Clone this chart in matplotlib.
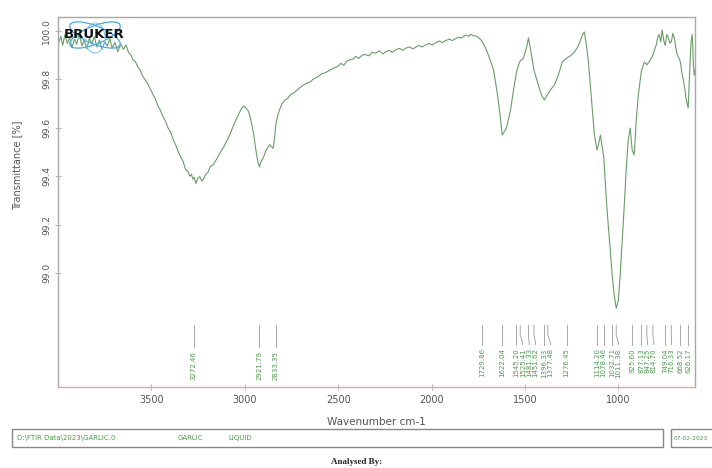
import matplotlib
matplotlib.use("Agg")
import matplotlib.pyplot as plt
from matplotlib.patches import Rectangle, Ellipse

# FTIR spectrum of garlic (liquid sample)
wavenumber = [
    3995, 3985, 3975, 3963, 3950, 3938, 3925, 3912, 3900, 3886, 3872, 3860, 3846,
    3832, 3820, 3806, 3792, 3778, 3764, 3750, 3737, 3722, 3710, 3695, 3680, 3665,
    3650, 3636, 3622, 3610, 3598, 3585, 3572, 3560, 3548, 3535, 3520, 3503, 3490,
    3478, 3465, 3452, 3440, 3425, 3410, 3396, 3382, 3370, 3356, 3343, 3330, 3318,
    3305, 3294, 3285, 3278, 3270, 3262, 3252, 3241, 3230, 3219, 3208, 3198, 3185,
    3171, 3158, 3145, 3130, 3118, 3107, 3092, 3075, 3060, 3043, 3030, 3016, 3005,
    2995, 2983, 2973, 2962, 2952, 2940, 2930, 2922, 2912, 2900, 2888, 2876, 2866,
    2856, 2848, 2840, 2834, 2824, 2813, 2800, 2786, 2770, 2754, 2735, 2717, 2698,
    2674, 2650, 2630, 2610, 2590, 2567, 2545, 2525, 2505, 2485, 2470, 2455, 2440,
    2420, 2405, 2390, 2372, 2353, 2335, 2318, 2299, 2280, 2260, 2246, 2228, 2210,
    2192, 2172, 2155, 2139, 2120, 2100, 2086, 2068, 2050, 2032, 2015, 1995, 1979,
    1960, 1942, 1925, 1905, 1888, 1872, 1855, 1840, 1829, 1812, 1800, 1791, 1775,
    1759, 1745, 1730, 1711, 1690, 1668, 1647, 1631, 1622, 1599, 1577, 1561, 1545,
    1529, 1508, 1492, 1481, 1465, 1452, 1433, 1412, 1396, 1380, 1364, 1342, 1321,
    1300, 1276, 1257, 1235, 1214, 1192, 1182, 1171, 1160, 1150, 1139, 1128, 1114,
    1107, 1096, 1078, 1064, 1054, 1043, 1033, 1022, 1011, 1000, 990, 979, 968, 958,
    947, 936, 926, 915, 904, 893, 877, 861, 847, 829, 814, 805, 797, 789, 781, 773,
    765, 757, 749, 741, 733, 725, 716, 708, 700, 692, 684, 676, 668, 660, 652, 644,
    636, 626, 620, 615, 610, 604, 598, 593, 590,
]
transmittance = [
    99.955, 99.978, 99.940, 99.985, 99.948, 99.972, 99.930, 99.966, 99.945, 99.985,
    99.938, 99.962, 99.925, 99.972, 99.946, 99.976, 99.934, 99.962, 99.924, 99.956,
    99.938, 99.968, 99.930, 99.952, 99.915, 99.946, 99.924, 99.942, 99.910, 99.901,
    99.880, 99.872, 99.850, 99.838, 99.815, 99.800, 99.782, 99.756, 99.735, 99.718,
    99.690, 99.672, 99.650, 99.628, 99.598, 99.580, 99.548, 99.530, 99.500, 99.480,
    99.460, 99.430, 99.420, 99.400, 99.408, 99.388, 99.395, 99.370, 99.392, 99.398,
    99.380, 99.392, 99.410, 99.415, 99.440, 99.446, 99.462, 99.478, 99.500, 99.515,
    99.530, 99.552, 99.582, 99.610, 99.640, 99.660, 99.682, 99.690, 99.682, 99.672,
    99.650, 99.612, 99.570, 99.505, 99.460, 99.438, 99.462, 99.478, 99.505, 99.520,
    99.530, 99.522, 99.515, 99.560, 99.612, 99.650, 99.676, 99.700, 99.714, 99.722,
    99.738, 99.745, 99.758, 99.770, 99.782, 99.790, 99.803, 99.810, 99.822, 99.828,
    99.838, 99.846, 99.852, 99.866, 99.858, 99.874, 99.880, 99.884, 99.895, 99.886,
    99.900, 99.902, 99.897, 99.912, 99.908, 99.918, 99.905, 99.914, 99.920, 99.912,
    99.922, 99.928, 99.920, 99.928, 99.934, 99.926, 99.932, 99.940, 99.934, 99.942,
    99.948, 99.942, 99.950, 99.958, 99.952, 99.960, 99.966, 99.960, 99.968, 99.974,
    99.970, 99.978, 99.982, 99.978, 99.986, 99.980, 99.978, 99.970, 99.958, 99.930,
    99.888, 99.839, 99.736, 99.640, 99.570, 99.599, 99.674, 99.756, 99.831, 99.872,
    99.888, 99.930, 99.971, 99.901, 99.839, 99.789, 99.736, 99.715, 99.736, 99.756,
    99.777, 99.818, 99.872, 99.888, 99.897, 99.913, 99.938, 99.983, 99.996, 99.942,
    99.872, 99.777, 99.674, 99.570, 99.508, 99.529, 99.570, 99.480, 99.302, 99.198,
    99.095, 98.992, 98.909, 98.855, 98.888, 98.992, 99.136, 99.281, 99.426, 99.550,
    99.599, 99.508, 99.488, 99.632, 99.736, 99.831, 99.872, 99.860, 99.880, 99.901,
    99.925, 99.942, 99.975, 99.985, 99.955, 100.004, 99.960, 99.940, 99.985, 99.975,
    99.950, 99.955, 99.990, 99.971, 99.930, 99.900, 99.890, 99.872, 99.830, 99.797,
    99.760, 99.715, 99.682, 99.800, 99.890, 99.960, 99.985, 99.860, 99.818, 99.839,
]

# Picked peak positions, one group per labelled region
peaks_oh_ch = [3272.46, 2921.79, 2833.35]
peaks_mid = [1729.86, 1622.04, 1545.20, 1525.41, 1481.33, 1451.62, 1396.33,
             1377.48, 1276.45]
peaks_fingerprint = [1114.20, 1078.46, 1032.71, 1011.38, 925.60, 877.13,
                     847.25, 814.70, 749.04, 716.33, 668.52, 626.17]

x_ticks = [3500, 3000, 2500, 2000, 1500, 1000]
y_ticks = [99.0, 99.2, 99.4, 99.6, 99.8, 100.0]

file_path = "D:\\FTIR Data\\2023\\GARLIC.0"
sample_name = "GARLIC"
sample_form = "LIQUID"
run_date = "07-02-2023"

line_col = "#6a9c6a"
label_col = "#4f9a4f"
frame_col = "#a8a8a8"
text_col = "#555555"

fig = plt.figure(figsize=(7.12, 4.68), dpi=100)
ax = fig.add_axes([0.0815, 0.173, 0.895, 0.791])

ax.plot(wavenumber, transmittance, color=line_col, lw=0.8)

ax.set_xlim(4000, 588)
ax.set_ylim(98.53, 100.058)

ax.set_xticks(x_ticks)
ax.set_xticklabels([str(t) for t in x_ticks])
ax.set_yticks(y_ticks)
ax.set_yticklabels([f"{t:.1f}" for t in y_ticks], rotation=90, va="center")
ax.tick_params(axis="both", direction="inout", length=4, width=0.6,
               color=frame_col, labelcolor=text_col, labelsize=7)
ax.tick_params(axis="y", labelsize=6.5, pad=3)

for side in ["left", "right", "top"]:
    ax.spines[side].set_color(frame_col)
    ax.spines[side].set_linewidth(1.0)
ax.spines["bottom"].set_color("#cfaeae")
ax.spines["bottom"].set_linewidth(1.0)

ax.set_xlabel("Wavenumber cm-1", fontsize=7.5, color=text_col, labelpad=9)
ax.set_ylabel("Transmittance [%]", fontsize=7, color=text_col, labelpad=4)
ax.yaxis.set_label_coords(-0.056, 0.6)

# Peak pick markers: leader lines and rotated value labels
line_top, line_knee, line_foot, label_top = 98.785, 98.745, 98.705, 98.690
min_sep = 34.0


def draw_peak_group(peaks, straight=False):
    ordered = sorted(peaks, reverse=True)
    label_pos = []
    for p in ordered:
        if label_pos and not straight:
            label_pos.append(min(p, label_pos[-1] - min_sep))
        else:
            label_pos.append(p)
    for p, lp in zip(ordered, label_pos):
        if straight:
            ax.plot([p, p], [line_top, line_foot - 0.01], color="#9a9a9a", lw=0.6)
            ty = label_top - 0.01
        else:
            ax.plot([p, p, lp, lp], [line_top, line_knee, line_foot + 0.005, line_foot],
                    color="#9a9a9a", lw=0.6)
            ty = label_top
        ax.text(lp, ty, f"{p:.2f}", rotation=90, ha="center", va="top",
                fontsize=5, color=label_col)


draw_peak_group(peaks_oh_ch, straight=True)
draw_peak_group(peaks_mid)
draw_peak_group(peaks_fingerprint)

# Instrument logo in the upper left corner
for ang in (22, -22):
    fig.add_artist(Ellipse((0.95, 4.33), 0.54, 0.18, angle=ang, fill=False,
                           edgecolor="#4aa8de", lw=0.9,
                           transform=fig.dpi_scale_trans))
fig.add_artist(Ellipse((0.95, 4.30), 0.2, 0.3, fill=False, edgecolor="#7cc4ea",
                       lw=0.7, transform=fig.dpi_scale_trans))
fig.text(0.94 / 7.12, 4.335 / 4.68, "BRUKER", ha="center", va="center",
         fontsize=9.5, fontweight="heavy", color="#111111")

# Sample information boxes
fig.add_artist(Rectangle((12 / 712, 1 - 447 / 468), (663 - 12) / 712, 18 / 468,
                         transform=fig.transFigure, fill=False,
                         edgecolor="#888888", lw=1.0))
fig.add_artist(Rectangle((671 / 712, 1 - 447 / 468), 45 / 712, 18 / 468,
                         transform=fig.transFigure, fill=False,
                         edgecolor="#888888", lw=1.0))
info_y = 1 - 438 / 468
fig.text(17 / 712, info_y, file_path, fontsize=5, color=label_col, va="center")
fig.text(178 / 712, info_y, sample_name, fontsize=5, color=label_col, va="center")
fig.text(228 / 712, info_y, sample_form, fontsize=5, color=label_col, va="center")
fig.text(674 / 712, info_y, run_date, fontsize=4.2, color=label_col, va="center")

fig.text(357 / 712, 1 - 462 / 468, "Analysed By:", fontsize=6.5, ha="center",
         va="center", family="Liberation Serif", fontweight="bold", color="#222222")

fig.savefig("out.png", dpi=100)
